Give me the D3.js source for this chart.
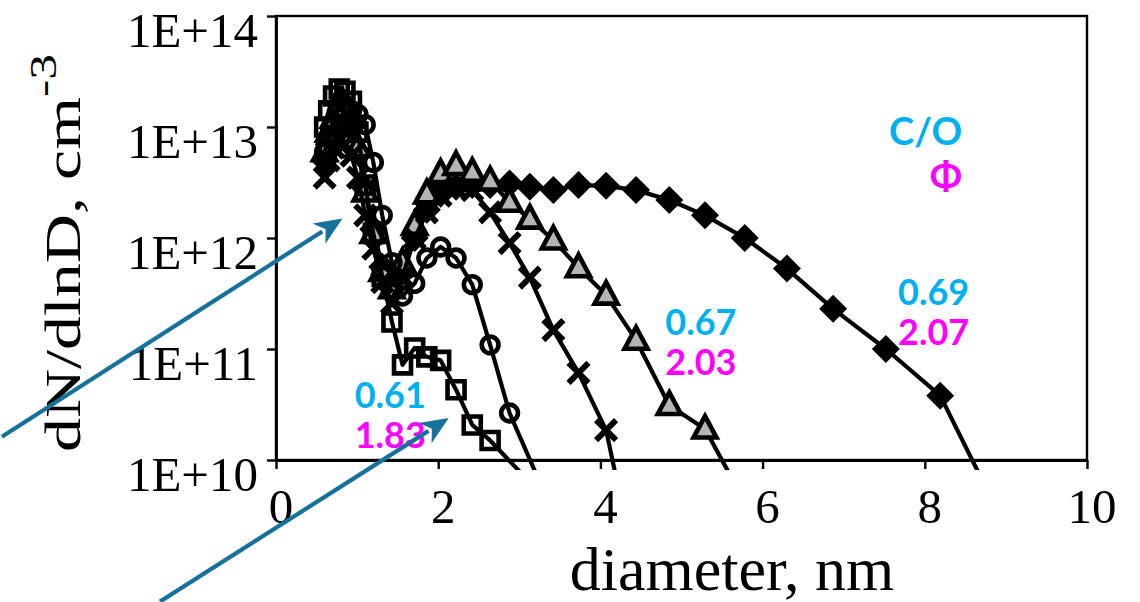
<!DOCTYPE html>
<html>
<head>
<meta charset="utf-8">
<script src="https://cdn.jsdelivr.net/npm/d3@7"></script>
<style>
  html, body { margin: 0; padding: 0; background: #fff; }
  svg { display: block; }
</style>
</head>
<body>
<svg id="chart" width="1140" height="602"></svg>
<script>
// Particle size distributions, dN/dlnD versus mobility diameter (nm)

const xTicks = [0, 2, 4, 6, 8, 10];
const yTicks = [1e10, 1e11, 1e12, 1e13, 1e14];
const yTickLabels = ["1E+10", "1E+11", "1E+12", "1E+13", "1E+14"];

// open squares
const squareD = [0.60, 0.65, 0.71, 0.78, 0.85, 0.93, 1.01, 1.10, 1.20, 1.31, 1.43, 1.56, 1.71, 1.86, 2.03, 2.22, 2.42, 2.64, 3.13];
const squareN = [1.0e13, 1.4e13, 1.9e13, 2.2e13, 2.1e13, 1.7e13, 9e12, 3.0e12, 1.1e12, 4.5e11, 1.75e11, 7.2e10, 1.02e11, 8.5e10, 7.9e10, 4.3e10, 2.07e10, 1.5e10, 6.3e9];

// open circles
const circleD = [0.60, 0.65, 0.71, 0.78, 0.85, 0.93, 1.01, 1.10, 1.20, 1.31, 1.43, 1.56, 1.71, 1.86, 2.03, 2.22, 2.42, 2.64, 2.88, 3.42];
const circleN = [6e12, 8e12, 1.0e13, 1.2e13, 1.35e13, 1.4e13, 1.3e13, 1.05e13, 4.8e12, 1.6e12, 6e11, 3e11, 3.9e11, 6.6e11, 8.3e11, 6.6e11, 3.8e11, 1.09e11, 2.65e10, 3.3e9];

// crosses
const crossD = [0.60, 0.65, 0.71, 0.78, 0.85, 0.93, 1.01, 1.10, 1.20, 1.31, 1.43, 1.56, 1.71, 1.86, 2.03, 2.22, 2.42, 2.64, 2.88, 3.13, 3.42, 3.73, 4.07, 4.44];
const crossN = [3.5e12, 5e12, 6.5e12, 7.5e12, 7e12, 5.5e12, 3.5e12, 1.6e12, 8e11, 4e11, 2.6e11, 4.5e11, 1.0e12, 1.7e12, 2.4e12, 2.8e12, 2.7e12, 1.7e12, 9.0e11, 4.4e11, 1.48e11, 6.1e10, 1.86e10, 1e9];

// grey triangles
const triD = [0.60, 0.65, 0.71, 0.78, 0.85, 0.93, 1.01, 1.10, 1.20, 1.31, 1.43, 1.56, 1.71, 1.86, 2.03, 2.22, 2.42, 2.64, 2.88, 3.13, 3.42, 3.73, 4.07, 4.44, 4.85, 5.29, 5.78];
const triN = [6e12, 9e12, 1.2e13, 1.5e13, 1.5e13, 1.2e13, 6.5e12, 2.6e12, 1.1e12, 5e11, 3.5e11, 6e11, 1.3e12, 2.5e12, 3.8e12, 4.5e12, 3.9e12, 3.26e12, 2.1e12, 1.48e12, 9.6e11, 5.4e11, 3.06e11, 1.2e11, 3.1e10, 1.9e10, 4.2e9];

// filled diamonds
const diamD = [0.60, 0.65, 0.71, 0.78, 0.85, 0.93, 1.01, 1.10, 1.20, 1.31, 1.43, 1.56, 1.71, 1.86, 2.03, 2.22, 2.42, 2.64, 2.88, 3.13, 3.42, 3.73, 4.07, 4.44, 4.85, 5.29, 5.78, 6.30, 6.87, 7.52, 8.19, 8.94];
const diamN = [5e12, 7e12, 9.5e12, 1.2e13, 1.2e13, 1.0e13, 6e12, 2.8e12, 1.2e12, 5.5e11, 3.5e11, 5e11, 1.0e12, 1.8e12, 2.5e12, 2.9e12, 3.0e12, 3.0e12, 3.1e12, 2.9e12, 2.7e12, 3.0e12, 2.95e12, 2.7e12, 2.2e12, 1.6e12, 1.0e12, 5.3e11, 2.3e11, 1.0e11, 3.8e10, 3e9];

// C/O and equivalence-ratio labels for three of the flames
const coLabels  = ["0.61", "0.67", "0.69"];
const phiLabels = ["1.83", "2.03", "2.07"];

const svg = d3.select("#chart");
const x = d3.scaleLinear().domain([0, 10]).range([276, 1087]);
const y = d3.scaleLog().domain([1e10, 1e14]).range([460, 16]);

const serif = "'Liberation Serif', 'Times New Roman', serif";
const sans = "Lato, 'Open Sans', 'Noto Sans', sans-serif";
const cyan = "#00B0F0", magenta = "#FF00FF", arrowColor = "#17729B";

// plot frame
svg.append("rect")
  .attr("x", x(0)).attr("y", y(1e14))
  .attr("width", x(10) - x(0)).attr("height", y(1e10) - y(1e14))
  .attr("fill", "none").attr("stroke", "#000").attr("stroke-width", 2.4);

// axes
const gy = svg.append("g").attr("transform", `translate(${x(0)},0)`)
  .call(d3.axisLeft(y).tickValues(yTicks).tickSize(9).tickSizeOuter(0).tickFormat(""));
const gx = svg.append("g").attr("transform", `translate(0,${y(1e10)})`)
  .call(d3.axisBottom(x).tickValues(xTicks).tickSize(9).tickSizeOuter(0).tickFormat(""));
[gy, gx].forEach(g => {
  g.select(".domain").attr("stroke", "#000").attr("stroke-width", 2.8);
  g.selectAll(".tick line").attr("stroke", "#000").attr("stroke-width", 2.4);
});

svg.append("g").selectAll("text").data(yTicks).join("text")
  .attr("x", 258).attr("y", d => y(d) + 31)
  .attr("text-anchor", "end")
  .attr("font-family", serif).attr("font-size", 49)
  .text((d, i) => yTickLabels[i]);

svg.append("g").selectAll("text").data(xTicks).join("text")
  .attr("x", d => x(d) + 5).attr("y", 523)
  .attr("text-anchor", "middle")
  .attr("font-family", serif).attr("font-size", 49)
  .text(d => d);

// axis titles
svg.append("text")
  .attr("x", 732).attr("y", 590)
  .attr("text-anchor", "middle")
  .attr("font-family", serif).attr("font-size", 62)
  .text("diameter, nm");

const yTitle = svg.append("text")
  .attr("transform", "translate(80,452) rotate(-90) scale(1.36,1)")
  .attr("font-family", serif).attr("font-size", 50);
yTitle.append("tspan").text("dN/dlnD, cm");
yTitle.append("tspan").attr("font-size", 38).attr("dy", -24).text("-3");

// series
svg.append("clipPath").attr("id", "plotClip")
  .append("rect").attr("x", x(0)).attr("y", y(1e14) - 20)
  .attr("width", x(10) - x(0) + 10).attr("height", 470 - y(1e14) + 20);

const plot = svg.append("g").attr("clip-path", "url(#plotClip)");
const line = d3.line().x(p => x(p[0])).y(p => y(p[1]));

const series = [
  { d: diamD, n: diamN, shape: "diamond" },
  { d: triD, n: triN, shape: "triangle" },
  { d: crossD, n: crossN, shape: "cross" },
  { d: circleD, n: circleN, shape: "circle" },
  { d: squareD, n: squareN, shape: "square" }
];

const shapePath = {
  diamond: "M0,-14L14,0L0,14L-14,0Z",
  triangle: "M0,-13L11.5,8.5L-11.5,8.5Z",
  cross: "M-10,-10L10,10M10,-10L-10,10",
  square: "M-8.5,-8.5H8.5V8.5H-8.5Z"
};

series.forEach(s => {
  const pts = s.d.map((d, i) => [d, s.n[i]]);
  const g = plot.append("g");
  g.append("path").attr("d", line(pts))
    .attr("fill", "none").attr("stroke", "#000").attr("stroke-width", 4.2)
    .attr("stroke-linejoin", "round");
  const m = g.selectAll(".m").data(pts).join(s.shape === "circle" ? "circle" : "path")
    .attr("class", "m");
  if (s.shape === "circle") {
    m.attr("cx", p => x(p[0])).attr("cy", p => y(p[1])).attr("r", 8.4)
      .attr("fill", "none").attr("stroke", "#000").attr("stroke-width", 4.6);
  } else {
    m.attr("transform", p => `translate(${x(p[0])},${y(p[1])})`)
      .attr("d", shapePath[s.shape]);
    if (s.shape === "diamond") m.attr("fill", "#000");
    if (s.shape === "triangle") m.attr("fill", "#b4b4b4").attr("stroke", "#000").attr("stroke-width", 4.6).attr("stroke-linejoin", "miter");
    if (s.shape === "cross") m.attr("fill", "none").attr("stroke", "#000").attr("stroke-width", 5.8);
    if (s.shape === "square") m.attr("fill", "none").attr("stroke", "#000").attr("stroke-width", 4.6);
  }
});

// legend heading
svg.append("text").attr("x", x(8.46)).attr("y", y(6.9e12))
  .attr("text-anchor", "end").attr("font-family", sans).attr("font-weight", 700)
  .attr("font-size", 38).attr("fill", cyan).text("C/O");
svg.append("text").attr("x", x(8.46)).attr("y", y(2.7e12))
  .attr("text-anchor", "end").attr("font-family", sans).attr("font-weight", 700)
  .attr("font-size", 38).attr("fill", magenta).text("Φ");

// per-flame labels: C/O above, Φ below
const labelAnchors = [
  { d: 0.97, co: 2.94e10, phi: 1.28e10 },
  { d: 4.80, co: 1.34e11, phi: 5.83e10 },
  { d: 7.67, co: 2.5e11, phi: 1.09e11 }
];
labelAnchors.forEach((a, i) => {
  svg.append("text").attr("x", x(a.d)).attr("y", y(a.co))
    .attr("font-family", sans).attr("font-weight", 700).attr("font-size", 36)
    .attr("fill", cyan).text(coLabels[i]);
  svg.append("text").attr("x", x(a.d)).attr("y", y(a.phi))
    .attr("font-family", sans).attr("font-weight", 700).attr("font-size", 36)
    .attr("fill", magenta).text(phiLabels[i]);
});

// pointer arrows (data coordinates of tail and tip)
const arrows = [
  { from: [-3.38, 1.62e10], to: [0.82, 1.5e12] },
  { from: [-1.43, 5.3e8], to: [2.13, 2.39e10] }
];
arrows.forEach(a => {
  const x0 = x(a.from[0]), y0 = y(a.from[1]);
  const x1 = x(a.to[0]), y1 = y(a.to[1]);
  const ang = Math.atan2(y1 - y0, x1 - x0);
  const len = 28, half = 12;
  const bx = x1 - len * Math.cos(ang), by = y1 - len * Math.sin(ang);
  svg.append("line")
    .attr("x1", x0).attr("y1", y0)
    .attr("x2", x1 - (len - 4) * Math.cos(ang)).attr("y2", y1 - (len - 4) * Math.sin(ang))
    .attr("stroke", arrowColor).attr("stroke-width", 4.2);
  const nx = -Math.sin(ang), ny = Math.cos(ang);
  svg.append("path")
    .attr("d", `M${x1},${y1}L${bx + half * nx},${by + half * ny}L${x1 - (len - 8) * Math.cos(ang)},${y1 - (len - 8) * Math.sin(ang)}L${bx - half * nx},${by - half * ny}Z`)
    .attr("fill", arrowColor);
});
</script>
</body>
</html>
